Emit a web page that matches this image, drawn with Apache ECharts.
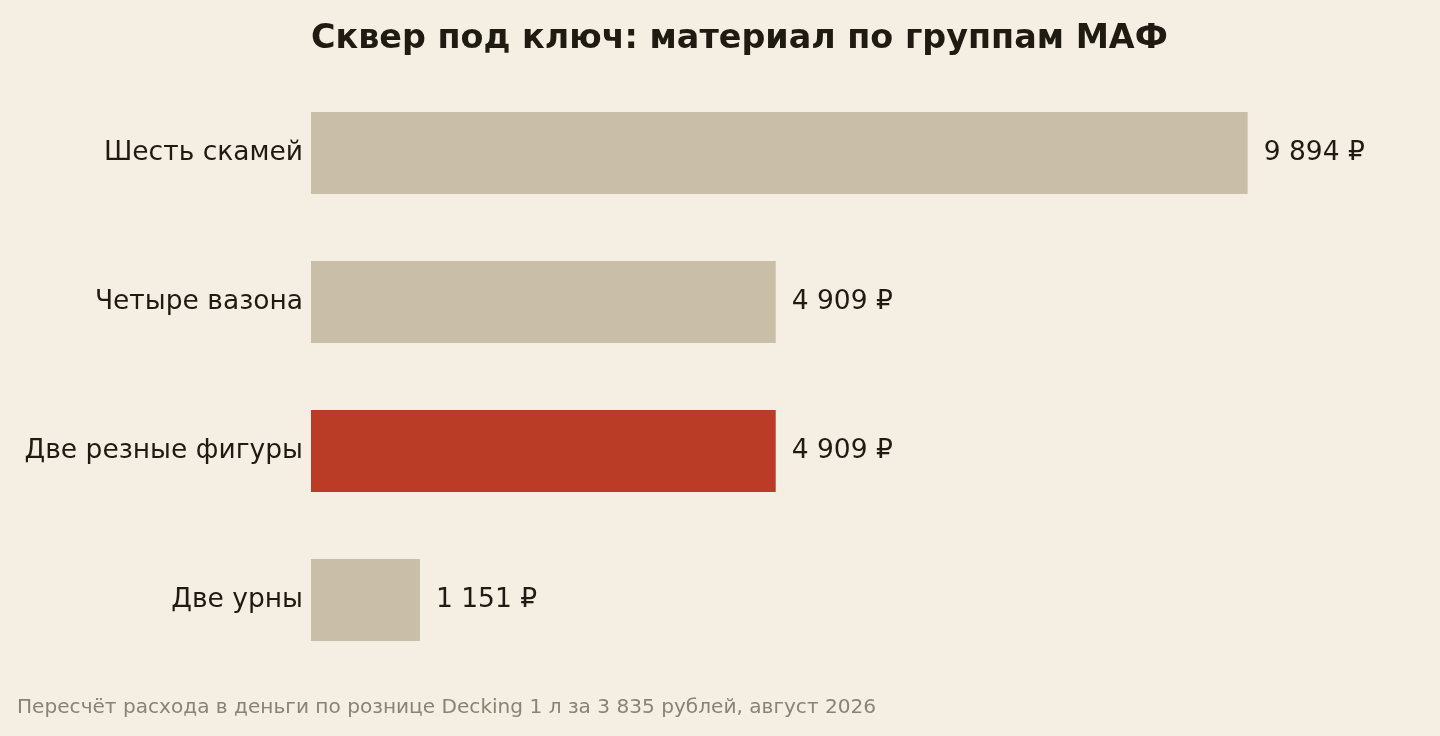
<!DOCTYPE html>
<html><head><meta charset="utf-8">
<script src="https://cdn.jsdelivr.net/npm/echarts@6/dist/echarts.min.js"></script>
<style>html,body{margin:0;padding:0;background:#f5efe3;}#c{width:1440px;height:736px;}</style>
</head><body><div id="c"></div>
<script>
const categories = ['Шесть скамей', 'Четыре вазона', 'Две резные фигуры', 'Две урны'];
const values = [9894, 4909, 4909, 1151];
const highlightIndex = 2;
const titleText = 'Сквер под ключ: материал по группам МАФ';
const footText = 'Пересчёт расхода в деньги по рознице Decking 1 л за 3 835 рублей, август 2026';

const chart = echarts.init(document.getElementById('c'));
const fmt = v => String(v).replace(/\B(?=(\d{3})+(?!\d))/g, ' ') + ' ₽';
chart.setOption({
  backgroundColor: '#f5efe3',
  animation: false,
  title: [{
    text: titleText, left: 311, top: 23, padding: 0,
    textStyle: {fontFamily: 'DejaVu Sans', fontWeight: 'bold', fontSize: 33.4, color: '#1f1a12'}
  }, {
    text: footText, left: 17, top: 698, padding: 0,
    textStyle: {fontFamily: 'DejaVu Sans', fontWeight: 'normal', fontSize: 20.1, color: '#8a8273'}
  }],
  grid: {left: 311, right: 135, top: 78.5, bottom: 736 - 674.5, containLabel: false},
  xAxis: {type: 'value', min: 0, max: 10500, show: false},
  yAxis: {
    type: 'category', data: categories, inverse: true,
    axisLine: {show: false}, axisTick: {show: false},
    axisLabel: {fontFamily: 'DejaVu Sans', fontSize: 26.5, color: '#1f1a12', margin: 8, padding: [5, 0, 0, 0]}
  },
  series: [{
    type: 'bar', barCategoryGap: '45%',
    data: values.map((v, i) => ({value: v, itemStyle: {color: i === highlightIndex ? '#bb3c26' : '#c9bfa8'}})),
    label: {show: true, position: 'right', distance: 16, formatter: p => fmt(p.value),
      fontFamily: 'DejaVu Sans', fontSize: 26.5, color: '#1f1a12'}
  }]
});
</script></body></html>
